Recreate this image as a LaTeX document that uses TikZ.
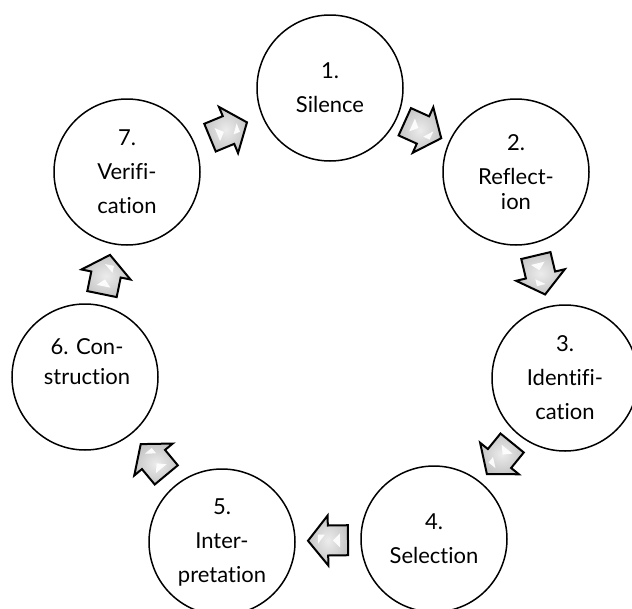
\documentclass[tikz,border=0pt]{standalone}
\usepackage{fontspec}
\setmainfont{Lato}[Ligatures={NoCommon}]
\usetikzlibrary{calc}
\begin{document}
\begin{tikzpicture}[x=1pt,y=-1pt,
  stage/.style={circle, draw=black, line width=1.5pt, minimum size=146pt, inner sep=0pt,
    align=center, font=\fontsize{22}{34}\selectfont, fill=white},
  stagetext/.style={inner sep=0pt, align=center, font=\fontsize{22}{30}\selectfont},
  blockarr/.style={draw=black, line width=2pt, line join=miter, inner color=gray!15, outer color=gray!45},
  gloss/.style={fill=white, draw=none, opacity=0.9},
  pics/blockarrow/.style={code={
    \path[blockarr] (-20,-15) -- (0,-15) -- (0,-25) -- (20,0) -- (0,25) -- (0,15) -- (-20,15) -- cycle;
    \fill[gloss] (-12,-7) -- (-12,7) -- (-5,0) -- cycle;
    \fill[gloss] (3,6) -- (10,6) -- (10,-3) -- cycle;
  }}
]
\useasboundingbox (0,0) rectangle (632,608);
\clip (0,0) rectangle (632,608);
\node[stage] (c1) at (330,88) {1.\\Silence};
\node[stage] (c2) at (516,172) {2.\\Reflect-\\[-9pt]ion};
\node[stage] (c3) at (565,378) {3.\\Identifi-\\cation};
\node[stage] (c4) at (434,539) {4.\\Selection};
\node[stage] (c5) at (222,542) {5.\\Inter-\\pretation};
\node[stage] (c6) at (85,377) {};
\node[stagetext] (t6) at (87,362) {6. Con-\\struction};
\node[stage] (c7) at (127,172) {7.\\Verifi-\\cation};
\foreach \a/\b/\nm in {c1/c2/a12, c2/c3/a23, c3/c4/a34, c4/c5/a45, c5/c6/a56, c6/c7/a67, c7/c1/a71} {
  \coordinate (\nm) at ($(\a)!0.5!(\b)$);
  \path let \p1=($(\b)-(\a)$), \n1={atan2(\y1,\x1)} in
    pic[rotate=\n1] at (\nm) {blockarrow};
}
\end{tikzpicture}
\end{document}
